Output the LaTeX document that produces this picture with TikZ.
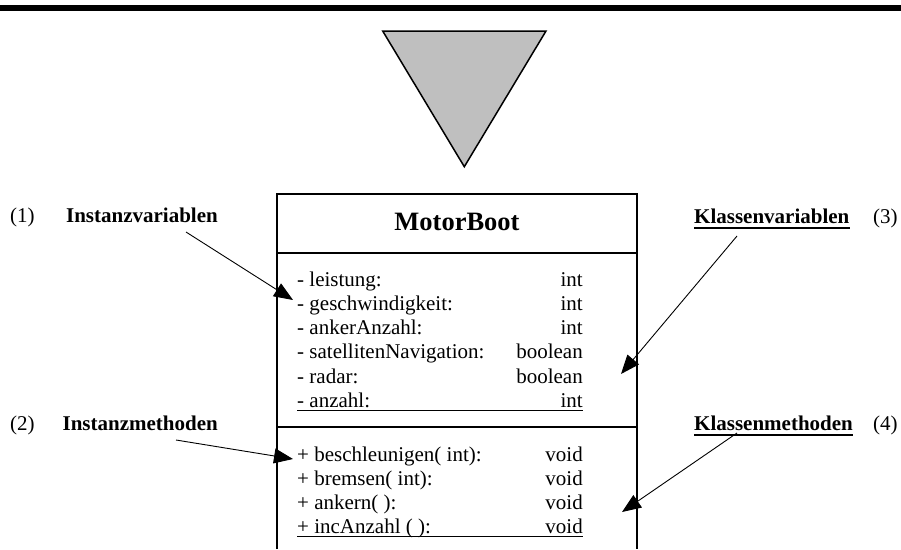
\documentclass[tikz,border=0pt]{standalone}
\usepackage{fontspec}
\setmainfont{Liberation Serif}
\usetikzlibrary{arrows.meta}
\begin{document}
\begin{tikzpicture}[x=1pt,y=-1pt,
  txt/.style={inner sep=0pt, font=\fontsize{21}{25}\selectfont},
  lbl/.style={inner sep=0pt, font=\fontsize{21}{25}\selectfont\bfseries},
  title/.style={inner sep=0pt, font=\fontsize{26.5}{30}\selectfont\bfseries},
  boxline/.style={line width=2.4pt},
  uline/.style={line width=1pt},
  buline/.style={line width=1.7pt},
  pointer/.style={line width=0.9pt, -{Triangle[length=19pt,width=15pt]}},
]
\useasboundingbox (0,0) rectangle (901,549);

% heading rule
\fill[black] (0,5) rectangle (901,11);

% inverted triangle
\draw[line width=1.5pt, line join=miter, fill=black!25] (382.7,31) -- (546,31) -- (464.3,166.7) -- cycle;

% class box
\draw[boxline] (277,549) -- (277,194) -- (637,194) -- (637,549);
\draw[boxline] (277,253) -- (637,253);
\draw[boxline] (277,427) -- (637,427);

\node[title, anchor=base] (cls) at (457,230) {MotorBoot};

% attributes
\node[txt, anchor=base west] (n1) at (297,286) {- leistung:};
\node[txt, anchor=base east] (t1) at (583,286) {int};
\node[txt, anchor=base west] (n2) at (297,310) {- geschwindigkeit:};
\node[txt, anchor=base east] (t2) at (583,310) {int};
\node[txt, anchor=base west] (n3) at (297,334) {- ankerAnzahl:};
\node[txt, anchor=base east] (t3) at (583,334) {int};
\node[txt, anchor=base west] (n4) at (297,358) {- satellitenNavigation:};
\node[txt, anchor=base east] (t4) at (583,358) {boolean};
\node[txt, anchor=base west] (n5) at (297,383) {- radar:};
\node[txt, anchor=base east] (t5) at (583,383) {boolean};
\node[txt, anchor=base west] (n6) at (297,407) {- anzahl:};
\node[txt, anchor=base east] (t6) at (583,407) {int};
\draw[uline] ([yshift=-3]n6.base west) -- ([yshift=-3]t6.base east);

% methods
\node[txt, anchor=base west] (m1) at (297,461) {+ beschleunigen( int):};
\node[txt, anchor=base east] (v1) at (583,461) {void};
\node[txt, anchor=base west] (m2) at (297,485) {+ bremsen( int):};
\node[txt, anchor=base east] (v2) at (583,485) {void};
\node[txt, anchor=base west] (m3) at (297,509) {+ ankern( ):};
\node[txt, anchor=base east] (v3) at (583,509) {void};
\node[txt, anchor=base west] (m4) at (297,533) {+ incAnzahl ( ):};
\node[txt, anchor=base east] (v4) at (583,533) {void};
\draw[uline] ([yshift=-3]m4.base west) -- ([yshift=-3]v4.base east);

% left labels
\node[txt, anchor=base west] (k1) at (10,222) {(1)};
\node[lbl, anchor=base east] (iv) at (218,222) {Instanzvariablen};
\node[txt, anchor=base west] (k2) at (10,430) {(2)};
\node[lbl, anchor=base east] (im) at (218,430) {Instanzmethoden};

% right labels
\node[lbl, anchor=base west] (kv) at (694,223) {Klassenvariablen};
\draw[buline] ([yshift=-5]kv.base west) -- ([yshift=-5]kv.base east);
\node[txt, anchor=base west] (k3) at (873,223) {(3)};
\node[lbl, anchor=base west] (km) at (694,430) {Klassenmethoden};
\draw[buline] ([yshift=-5]km.base west) -- ([yshift=-5]km.base east);
\node[txt, anchor=base west] (k4) at (873,430) {(4)};

% pointer ends
\coordinate (ivs) at (186,232);
\coordinate (ive) at (293,300);
\coordinate (ims) at (176,440);
\coordinate (ime) at (293,459);
\coordinate (kvs) at (737,236);
\coordinate (kve) at (621,374);
\coordinate (kms) at (737,433);
\coordinate (kme) at (622,512);

\draw[pointer] (ivs) -- (ive);
\draw[pointer] (ims) -- (ime);
\draw[pointer] (kvs) -- (kve);
\draw[pointer] (kms) -- (kme);
\end{tikzpicture}
\end{document}
